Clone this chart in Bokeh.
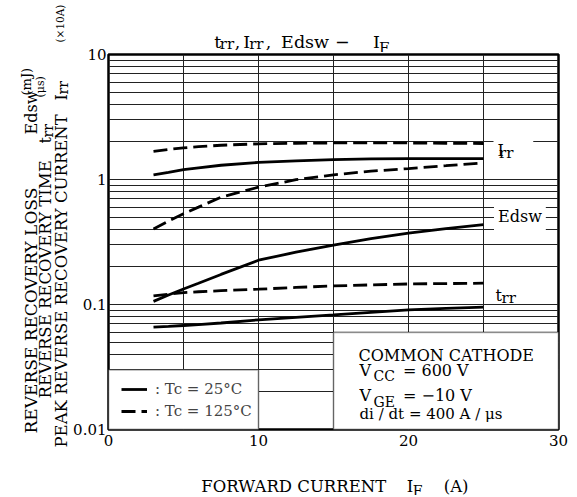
import math
from bokeh.plotting import figure
from bokeh.layouts import column, row
from bokeh.models import (FixedTicker, CustomJSTickFormatter, Label, Legend,
                          LegendItem, BoxAnnotation, Range1d)
from bokeh.embed import file_html
from bokeh.resources import INLINE

FONT = "DejaVu Serif"

# ---------------- data ----------------
forward_current = [3, 4, 5, 6, 7.5, 10, 12.5, 15, 17.5, 20, 22.5, 25]
irr_25c = [1.09, 1.14, 1.20, 1.24, 1.30, 1.37, 1.41, 1.44, 1.46, 1.47, 1.47, 1.47]
irr_125c = [1.68, 1.74, 1.79, 1.83, 1.88, 1.93, 1.95, 1.96, 1.96, 1.96, 1.95, 1.94]
edsw_125c = [0.401, 0.465, 0.533, 0.601, 0.722, 0.868, 0.996, 1.09, 1.165, 1.224, 1.289, 1.36]
edsw_25c = [0.106, 0.119, 0.133, 0.148, 0.174, 0.226, 0.262, 0.299, 0.337, 0.372, 0.405, 0.435]
trr_125c = [0.117, 0.121, 0.1245, 0.1265, 0.129, 0.1325, 0.137, 0.1407, 0.1435, 0.146, 0.147, 0.148]
trr_25c = [0.0659, 0.0668, 0.0679, 0.069, 0.0711, 0.0754, 0.079, 0.0826, 0.0866, 0.0906, 0.0932, 0.0952]

x_ticks = [0, 10, 20, 30]
x_minor_ticks = [5, 15, 25]
y_ticks = [0.01, 0.1, 1, 10]
y_minor_ticks = [m * d for d in (0.01, 0.1, 1) for m in range(2, 10)]

legend_labels = [": Tc = 25°C", ": Tc = 125°C"]

# ---------------- layout geometry (page pixels) ----------------
PAGE_W, PAGE_H = 577, 495
YLAB_W = 70
COL_W = PAGE_W - YLAB_W
TITLE_H = 52
OVERLAP = 12                      # main figure slides up under the title strip
MAIN_TOP = TITLE_H - OVERLAP      # page y of the main figure's canvas
FL, FR, FT, FB = 107, 558, 54, 429  # plot frame edges on the page
BOTTOM_BORDER = 24
MAIN_H = (FT - MAIN_TOP) + (FB - FT) + BOTTOM_BORDER
XLAB_TOP = MAIN_TOP + MAIN_H
XLAB_H = PAGE_H - XLAB_TOP
BL, BR = FL - YLAB_W, PAGE_W - FR   # left / right borders of the column figures


def text_fig(w, h, xr, yr, bl=0, br=0):
    f = figure(width=w, height=h, x_range=Range1d(*xr), y_range=Range1d(*yr),
               output_backend="svg", toolbar_location=None, min_border=0,
               min_border_left=bl, min_border_right=br,
               x_axis_location=None, y_axis_location=None, title_location=None)
    f.outline_line_color = None
    f.xgrid.grid_line_color = None
    f.ygrid.grid_line_color = None
    f.background_fill_color = "white"
    f.border_fill_color = "white"
    return f


def put(fig, text, X, Y, size="16px", angle=0.0):
    # X, Y are page pixel positions (the text figures use page coordinates)
    fig.add_layout(Label(x=X, y=Y, text=text, text_font=FONT,
                         text_font_size=size, text_color="black", angle=angle,
                         text_align="left", text_baseline="alphabetic"))


# ---------------- main figure ----------------
p = figure(width=COL_W, height=MAIN_H, x_range=(0, 30), y_range=(0.01, 10),
           y_axis_type="log", output_backend="svg", toolbar_location=None,
           title_location=None,
           min_border_left=BL, min_border_right=BR,
           min_border_top=FT - MAIN_TOP, min_border_bottom=BOTTOM_BORDER)
p.margin = (-OVERLAP, 0, 0, 0)
p.background_fill_color = "white"
p.border_fill_color = None        # transparent, so the title strip shows through
p.outline_line_color = "black"
p.outline_line_width = 2.5

p.xaxis.ticker = FixedTicker(ticks=x_ticks, minor_ticks=x_minor_ticks)
p.yaxis.ticker = FixedTicker(ticks=y_ticks, minor_ticks=y_minor_ticks)
p.yaxis.formatter = CustomJSTickFormatter(code="return String(tick)")
for ax in (p.xaxis, p.yaxis):
    ax.axis_line_color = None
    ax.major_tick_line_color = None
    ax.minor_tick_line_color = None
    ax.major_tick_out = 0
    ax.minor_tick_out = 0
    ax.major_tick_in = 0
    ax.minor_tick_in = 0
    ax.major_label_text_font = FONT
    ax.major_label_text_font_size = "15px"
    ax.major_label_text_color = "black"
p.xaxis.major_label_standoff = 5
p.yaxis.major_label_standoff = 2

for g in (p.xgrid, p.ygrid):
    g.grid_line_color = "#222222"
    g.grid_line_width = 1
    g.minor_grid_line_color = "#222222"
    g.minor_grid_line_width = 1

LW = 2.8
DASH = "14 6"
r_irr25 = p.line(forward_current, irr_25c, line_color="black", line_width=LW)
r_irr125 = p.line(forward_current, irr_125c, line_color="black", line_width=LW, line_dash=DASH)
p.line(forward_current, edsw_25c, line_color="black", line_width=LW)
p.line(forward_current, edsw_125c, line_color="black", line_width=LW, line_dash=DASH)
p.line(forward_current, trr_25c, line_color="black", line_width=LW)
p.line(forward_current, trr_125c, line_color="black", line_width=LW, line_dash=DASH)

p.add_layout(BoxAnnotation(left=0, right=10, bottom=0.01, top=0.03,
                           fill_color="white", fill_alpha=1,
                           line_color="black", line_width=1.8))
p.add_layout(BoxAnnotation(left=15, right=30, bottom=0.01, top=0.06,
                           fill_color="white", fill_alpha=1,
                           line_color="black", line_width=1.8))

legend = Legend(items=[LegendItem(label=legend_labels[0], renderers=[r_irr25]),
                       LegendItem(label=legend_labels[1], renderers=[r_irr125])],
                location=(13, 8), background_fill_alpha=0, border_line_color=None,
                label_text_font=FONT, label_text_font_size="15px",
                glyph_width=26, glyph_height=20, label_height=20,
                label_standoff=8, padding=0, margin=0, spacing=2)
p.add_layout(legend)


def lab(text, X, Y, size="16px", bg=None, pad=0):
    kw = {}
    if bg is not None:
        kw = dict(background_fill_color=bg, padding=pad)
    p.add_layout(Label(x=X - FL, y=FB - Y, x_units="screen", y_units="screen",
                       text=text, text_font=FONT, text_font_size=size,
                       text_color="black", text_align="left",
                       text_baseline="alphabetic", **kw))


# curve labels (white patches break the grid lines behind them)
lab("I     ", 492, 150, "16px", bg="white", pad=4)
lab("rr", 497.5, 152, "15px")
lab("Edsw", 492.5, 216, "16px", bg="white", pad=4)
lab("t", 494, 295, "16px")
lab("rr", 500, 297, "15px")

# condition box text
lab("COMMON CATHODE", 357, 355, "16px")
lab("V", 358, 370, "16px")
lab("CC", 372, 375, "14px")
lab("= 600 V", 401.5, 370, "16px")
lab("V", 358, 395, "16px")
lab("GE", 372, 401, "14px")
lab("= −10 V", 401.5, 395, "16px")
lab("di / dt = 400 A / μs", 358, 413.5, "15px")

# ---------------- title ----------------
title_fig = text_fig(COL_W, TITLE_H, (FL, FR), (TITLE_H, 0), BL, BR)
put(title_fig, "t", 213, 41.5, "17.5px")
put(title_fig, "rr", 218.5, 43.5, "15px")
put(title_fig, ",", 233.5, 41.5, "17.5px")
put(title_fig, "I", 242, 41.5, "17.5px")
put(title_fig, "rr", 248, 43.5, "15px")
put(title_fig, ",", 264.5, 41.5, "17.5px")
put(title_fig, "Edsw", 280, 41.5, "17.5px")
put(title_fig, "−", 334, 41.5, "17.5px")
put(title_fig, "I", 372, 41.5, "17.5px")
put(title_fig, "F", 378, 47, "15px")

# ---------------- x-axis label ----------------
xlab_fig = text_fig(COL_W, XLAB_H, (FL, FR), (PAGE_H, XLAB_TOP), BL, BR)
put(xlab_fig, "FORWARD CURRENT", 200, 486, "16.5px")
put(xlab_fig, "I", 406, 486, "16.5px")
put(xlab_fig, "F", 412, 490.5, "14px")
put(xlab_fig, "(A)", 443, 486, "16.5px")

# ---------------- y-axis label (rotated) ----------------
ylab_fig = text_fig(YLAB_W, PAGE_H, (0, YLAB_W), (PAGE_H, 0))
A = math.pi / 2
put(ylab_fig, "REVERSE RECOVERY LOSS", 30.5, 433, "17px", A)
put(ylab_fig, "Edsw", 30.5, 134, "16px", A)
put(ylab_fig, "(mJ)", 26, 95, "13px", A)
put(ylab_fig, "REVERSE RECOVERY TIME", 45, 398, "16.5px", A)
put(ylab_fig, "t", 45, 143, "16px", A)
put(ylab_fig, "rr", 47, 137, "14px", A)
put(ylab_fig, "(μs)", 40, 97, "11px", A)
put(ylab_fig, "PEAK REVERSE RECOVERY CURRENT", 60.5, 447, "16.5px", A)
put(ylab_fig, "I", 60.5, 100, "16px", A)
put(ylab_fig, "rr", 62.5, 94, "14px", A)
put(ylab_fig, "(×10A)", 59, 42, "10.5px", A)

layout = row(ylab_fig, column(title_fig, p, xlab_fig))
open("out.html", "w").write(file_html(layout, INLINE))
